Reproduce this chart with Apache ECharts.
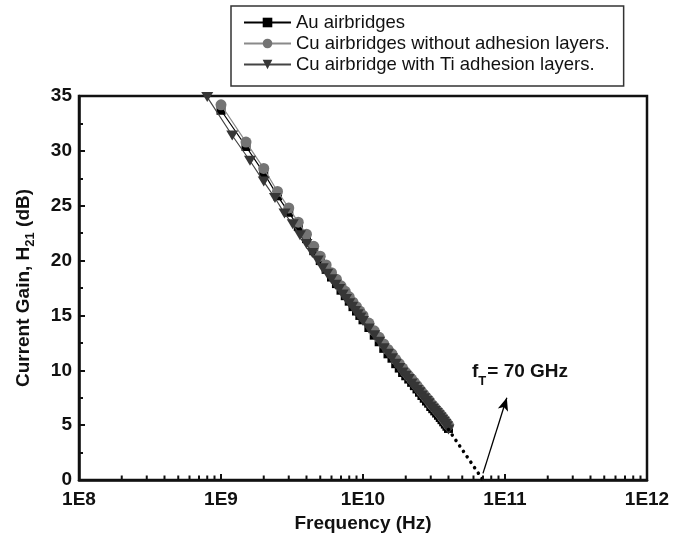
<!DOCTYPE html>
<html>
<head>
<meta charset="utf-8">
<title>Current gain H21 vs frequency</title>
<script src="https://cdn.jsdelivr.net/npm/echarts@6.0.0/dist/echarts.min.js"></script>
<style>
    html, body { margin: 0; padding: 0; background: #fff; }
    #chart { width: 686px; height: 540px; }
</style>
</head>
<body>
<div id="chart"></div>
<script>
var FONT = '"Liberation Sans", Arial, Helvetica, sans-serif';

var legends = ['Au airbridges', 'Cu airbridges without adhesion layers.', 'Cu airbridge with Ti adhesion layers.'];

// frequency in GHz, gain in dB
var freqCu = [1, 1.5, 2, 2.5, 3, 3.5, 4, 4.5, 5, 5.5, 6, 6.5, 7, 7.5, 8, 8.5, 9, 9.5, 10,
    11, 12, 13, 14, 15, 16, 17, 18, 19, 20, 21, 22, 23, 24, 25, 26, 27, 28, 29, 30,
    31, 32, 33, 34, 35, 36, 37, 38, 39, 40];
var gainAu = [33.7, 30.4, 28.0, 25.9, 24.4, 23.1, 22.0, 20.9, 20.0, 19.2, 18.5, 17.9, 17.3, 16.8, 16.3, 15.8, 15.4, 15.0, 14.6,
    13.9, 13.2, 12.6, 12.0, 11.5, 11.1, 10.6, 10.2, 9.8, 9.5, 9.2, 8.9, 8.6, 8.3, 8.0, 7.7, 7.45, 7.2, 7.0, 6.7,
    6.5, 6.3, 6.1, 5.9, 5.7, 5.5, 5.3, 5.1, 4.9, 4.7];
var gainCu = [34.2, 30.8, 28.4, 26.3, 24.8, 23.5, 22.4, 21.3, 20.4, 19.6, 18.9, 18.3, 17.7, 17.2, 16.7, 16.2, 15.8, 15.4, 15.0,
    14.3, 13.6, 13.0, 12.4, 11.9, 11.5, 11.0, 10.6, 10.2, 9.8, 9.5, 9.2, 8.9, 8.6, 8.3, 8.0, 7.75, 7.5, 7.3, 7.0,
    6.8, 6.6, 6.4, 6.2, 6.0, 5.8, 5.6, 5.4, 5.2, 5.0];
var freqTi = [0.8, 1.2, 1.6, 2.0, 2.4, 2.8, 3.2, 3.6, 4.0, 4.4, 4.8, 5.2, 5.6, 6.0, 6.4, 6.8, 7.2, 7.6, 8.0, 8.4, 8.8, 9.2, 9.6, 10.0,
    11, 12, 13, 14, 15, 16, 17, 18, 19, 20, 21, 22, 23, 24, 25, 26, 27, 28, 29, 30,
    31, 32, 33, 34, 35, 36, 37, 38, 39, 40];
var gainTi = [34.9, 31.4, 29.1, 27.2, 25.7, 24.3, 23.3, 22.3, 21.5, 20.7, 20.0, 19.3, 18.8, 18.3, 17.8, 17.4, 16.9, 16.5, 16.1, 15.8, 15.4, 15.1, 14.8, 14.5,
    13.8, 13.2, 12.6, 12.0, 11.5, 11.1, 10.6, 10.2, 9.8, 9.5, 9.2, 8.8, 8.5, 8.2, 8.0, 7.7, 7.45, 7.2, 7.0, 6.7,
    6.5, 6.3, 6.1, 5.9, 5.7, 5.5, 5.3, 5.1, 4.9, 4.6];

// -20 dB/dec extrapolation to fT, and the arrow pointing at it (GHz, dB)
var fitFreq = [40, 70];
var fitGain = [4.6, 0];
var arrowFrom = [70, 0.6];
var arrowTo = [103, 7.5];

// x axis: decades and the minor steps inside each
var decades = [1e8, 1e9, 1e10, 1e11];
var minorSteps = [2, 3, 4, 5, 6, 7, 8, 9];

function pairs(f, g) {
    var out = [];
    for (var i = 0; i < f.length; i++) {
        out.push([f[i] * 1e9, g[i]]);
    }
    return out;
}

var minorTicks = [];
for (var d = 0; d < decades.length; d++) {
    for (var m = 0; m < minorSteps.length; m++) {
        minorTicks.push([decades[d] * minorSteps[m], 0]);
    }
}

var boldText = { fontFamily: FONT, fontWeight: 'bold', fontSize: 19, color: '#111' };

var option = {
    animation: false,
    backgroundColor: '#fff',
    grid: {
        left: 79, right: 39, top: 96, bottom: 60,
        show: true, borderColor: '#111', borderWidth: 2.5
    },
    legend: {
        data: legends,
        orient: 'vertical',
        align: 'left',
        left: 231, top: 6,
        padding: [7, 14, 12, 12],
        itemGap: 2,
        itemWidth: 47,
        itemHeight: 12,
        borderColor: '#333',
        borderWidth: 1.5,
        textStyle: { fontFamily: FONT, fontSize: 18.5, color: '#111' }
    },
    xAxis: {
        type: 'log',
        logBase: 10,
        min: 1e8,
        max: 1e12,
        splitNumber: 4,
        name: 'Frequency (Hz)',
        nameLocation: 'middle',
        nameGap: 34,
        nameTextStyle: boldText,
        axisLine: { onZero: false, lineStyle: { color: '#111', width: 2.5 } },
        axisTick: { inside: true, length: 6, lineStyle: { color: '#111', width: 2 } },
        axisLabel: {
            margin: 10,
            fontFamily: FONT, fontWeight: 'bold', fontSize: 19, color: '#111',
            showMinLabel: true, showMaxLabel: true,
            formatter: function (v) {
                return '1E' + Math.round(Math.log(v) / Math.LN10);
            }
        },
        splitLine: { show: false }
    },
    yAxis: {
        type: 'value',
        min: 0,
        max: 35,
        interval: 5,
        name: '{a|Current Gain, H}{s|21}{a| (dB)}',
        nameLocation: 'middle',
        nameGap: 44,
        nameTextStyle: {
            fontFamily: FONT, fontWeight: 'bold', fontSize: 19, color: '#111',
            rich: {
                a: { fontFamily: FONT, fontWeight: 'bold', fontSize: 19, color: '#111', lineHeight: 22 },
                s: { fontFamily: FONT, fontWeight: 'bold', fontSize: 13, color: '#111', lineHeight: 13, padding: [13, 0, 0, 0] }
            }
        },
        axisLine: { lineStyle: { color: '#111', width: 2.5 } },
        axisTick: { inside: true, length: 6, lineStyle: { color: '#111', width: 2 } },
        minorTick: { show: true, splitNumber: 2, length: 4, lineStyle: { color: '#111', width: 2 } },
        axisLabel: { margin: 7, fontFamily: FONT, fontWeight: 'bold', fontSize: 19, color: '#111' },
        splitLine: { show: false }
    },
    graphic: [{
        type: 'text',
        x: 472,
        y: 361,
        z: 10,
        style: {
            text: '{f|f}{t|T}{r|= 70 GHz}',
            rich: {
                f: { fontFamily: FONT, fontWeight: 'bold', fontSize: 19, fill: '#111', lineHeight: 22 },
                t: { fontFamily: FONT, fontWeight: 'bold', fontSize: 13, fill: '#111', lineHeight: 13, padding: [18, 1, 0, 0] },
                r: { fontFamily: FONT, fontWeight: 'bold', fontSize: 19, fill: '#111', lineHeight: 22 }
            }
        }
    }],
    series: [
        {
            name: legends[0],
            type: 'line',
            data: pairs(freqCu, gainAu),
            symbol: 'rect',
            symbolSize: 9,
            showAllSymbol: true,
            itemStyle: { color: '#000' },
            lineStyle: { color: '#000', width: 1.2 },
            z: 2
        },
        {
            name: legends[1],
            type: 'line',
            data: pairs(freqCu, gainCu),
            symbol: 'circle',
            symbolSize: 11,
            showAllSymbol: true,
            itemStyle: { color: '#747474' },
            lineStyle: { color: '#8a8a8a', width: 1.2 },
            z: 3
        },
        {
            name: legends[2],
            type: 'line',
            data: pairs(freqTi, gainTi),
            symbol: 'triangle',
            symbolRotate: 180,
            symbolSize: [12, 10],
            showAllSymbol: true,
            itemStyle: { color: '#363636' },
            lineStyle: { color: '#444', width: 1.2 },
            z: 4
        },
        {
            name: 'fit',
            type: 'line',
            data: pairs(fitFreq, fitGain),
            symbol: 'none',
            lineStyle: { color: '#000', width: 3.5, type: [0.1, 6.5], cap: 'round' },
            markLine: {
                silent: true,
                symbol: ['none', 'arrow'],
                symbolSize: [8, 13],
                label: { show: false },
                lineStyle: { color: '#000', width: 1.3, type: 'solid' },
                data: [[{ coord: [arrowFrom[0] * 1e9, arrowFrom[1]] }, { coord: [arrowTo[0] * 1e9, arrowTo[1]] }]]
            },
            z: 5
        },
        {
            name: 'minor',
            type: 'custom',
            silent: true,
            clip: false,
            data: minorTicks,
            renderItem: function (params, api) {
                var p = api.coord([api.value(0), 0]);
                return {
                    type: 'line',
                    shape: { x1: p[0], y1: p[1], x2: p[0], y2: p[1] - 4.5 },
                    style: { stroke: '#111', lineWidth: 2 }
                };
            },
            z: 6
        }
    ]
};

var chart = echarts.init(document.getElementById('chart'));
chart.setOption(option);
</script>
</body>
</html>
